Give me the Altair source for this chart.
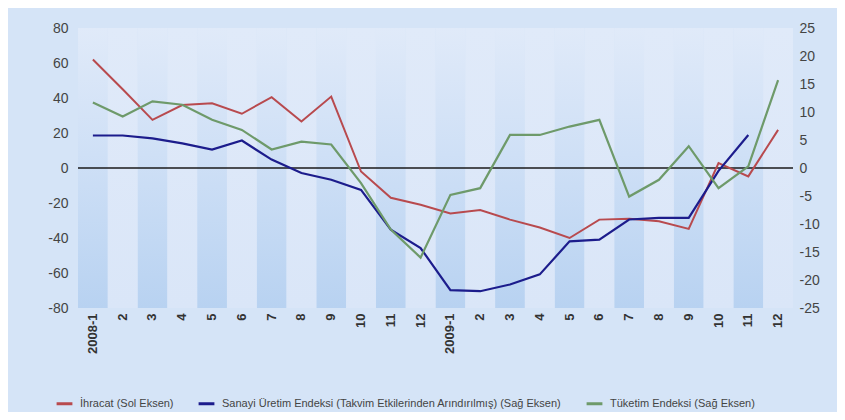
import altair as alt
import pandas as pd

labels = ["2008-1", "2", "3", "4", "5", "6", "7", "8", "9", "10", "11", "12",
          "2009-1", "2", "3", "4", "5", "6", "7", "8", "9", "10", "11", "12"]

ihracat = [62, 45, 27.5, 36, 37, 31, 40.5, 26.6, 40.8, -2, -17, -21,
           -26, -24, -29.5, -34, -40, -29.5, -29, -30.4, -34.8, 2.8, -4.8, 21.8]
sanayi = [5.8, 5.8, 5.3, 4.4, 3.3, 4.9, 1.5, -0.9, -2.1, -3.9, -11, -14.3,
          -21.8, -22, -20.8, -19, -13.1, -12.8, -9.2, -8.9, -8.9, -0.5, 5.9, None]
tuketim = [11.7, 9.2, 11.9, 11.3, 8.6, 6.8, 3.3, 4.7, 4.2, -2.7, -11, -16,
           -4.8, -3.6, 5.9, 5.9, 7.4, 8.6, -5.1, -2.1, 3.9, -3.6, 0.3, 15.7]

series_names = ["İhracat (Sol Eksen)",
                "Sanayi Üretim Endeksi (Takvim Etkilerinden Arındırılmış) (Sağ Eksen)",
                "Tüketim Endeksi (Sağ Eksen)"]
series_colors = ["#b84a4e", "#1c1c8c", "#6e9a6a"]

left_ticks = [80, 60, 40, 20, 0, -20, -40, -60, -80]
right_ticks = [25, 20, 15, 10, 5, 0, -5, -10, -15, -20, -25]

idx = list(range(len(labels)))
bands = pd.DataFrame({"idx": idx, "parity": [i % 2 for i in idx]})

left_df = pd.DataFrame({"idx": idx, "value": ihracat, "series": series_names[0]})
rows = []
for name, vals in [(series_names[1], sanayi), (series_names[2], tuketim)]:
    for i, v in zip(idx, vals):
        if v is not None:
            rows.append({"idx": i, "value": v, "series": name})
right_df = pd.DataFrame(rows)

label_expr = "[" + ",".join("'%s'" % l for l in labels) + "][datum.value]"
num_expr = "datum.value < 0 ? '-' + abs(datum.value) : '' + datum.value"

x_enc = alt.X("idx:O",
              scale=alt.Scale(paddingInner=0, paddingOuter=0),
              axis=alt.Axis(title=None, labelExpr=label_expr, labelAngle=270,
                            ticks=False, domain=False, labelPadding=5,
                            labelFontSize=13, labelFontWeight="bold",
                            labelColor="#333333", labelFont="Liberation Sans",
                            labelOverlap=False))

color_enc = alt.Color("series:N",
                      scale=alt.Scale(domain=series_names, range=series_colors),
                      legend=alt.Legend(title=None, orient="none", direction="horizontal",
                                        legendX=-23, legendY=366, padding=0,
                                        symbolType="stroke", symbolStrokeWidth=3,
                                        symbolSize=250, labelFontSize=11,
                                        labelColor="#444444", labelFont="Liberation Sans",
                                        columnPadding=18, labelOffset=6, labelLimit=0))

dark_grad = alt.Gradient(gradient="linear",
                         stops=[alt.GradientStop(color="#e0eaf9", offset=0),
                                alt.GradientStop(color="#cfe0f6", offset=0.45),
                                alt.GradientStop(color="#b8d2f1", offset=1)],
                         x1=0, x2=0, y1=0, y2=1)
light_grad = alt.Gradient(gradient="linear",
                          stops=[alt.GradientStop(color="#e0eaf9", offset=0),
                                 alt.GradientStop(color="#dae6f8", offset=1)],
                          x1=0, x2=0, y1=0, y2=1)

bands_dark = alt.Chart(bands).transform_filter("datum.parity == 0").mark_rect(
    fill=dark_grad).encode(x=x_enc, y=alt.value(0), y2=alt.value(280))
bands_light = alt.Chart(bands).transform_filter("datum.parity == 1").mark_rect(
    fill=light_grad).encode(x=x_enc, y=alt.value(0), y2=alt.value(280))

y_left = alt.Y("value:Q", scale=alt.Scale(domain=[-80, 80]),
               axis=alt.Axis(title=None, values=left_ticks, grid=False, ticks=False,
                             domain=False, labelFontSize=14, labelColor="#444444",
                             labelPadding=10, labelFont="Liberation Sans",
                             labelOverlap=False, labelExpr=num_expr))
y_right = alt.Y("value:Q", scale=alt.Scale(domain=[-25, 25]),
                axis=alt.Axis(title=None, values=right_ticks, grid=False, ticks=False,
                              domain=False, labelFontSize=14, labelColor="#444444",
                              labelPadding=6, labelFont="Liberation Sans",
                              labelOverlap=False, labelExpr=num_expr))

red = alt.Chart(left_df).mark_line(strokeWidth=2).encode(
    x=x_enc, y=y_left, color=color_enc)
zero = alt.Chart(pd.DataFrame({"value": [0]})).mark_rule(
    color="#1a1a1a", strokeWidth=1.5).encode(y=y_left)

left = alt.layer(bands_dark, bands_light, zero, red)
right = alt.Chart(right_df).mark_line(strokeWidth=2.2).encode(
    x=x_enc, y=y_right, color=color_enc, detail="series:N")

chart = alt.layer(left, right).resolve_scale(y="independent").properties(
    width=715, height=280,
    autosize=alt.AutoSizeParams(type="none"),
    padding={"left": 70, "top": 20, "right": 44, "bottom": 104},
    background="#d5e4f7",
).configure_view(stroke=None)

chart.save("out.html", embed_options={"renderer": "svg", "actions": False})
